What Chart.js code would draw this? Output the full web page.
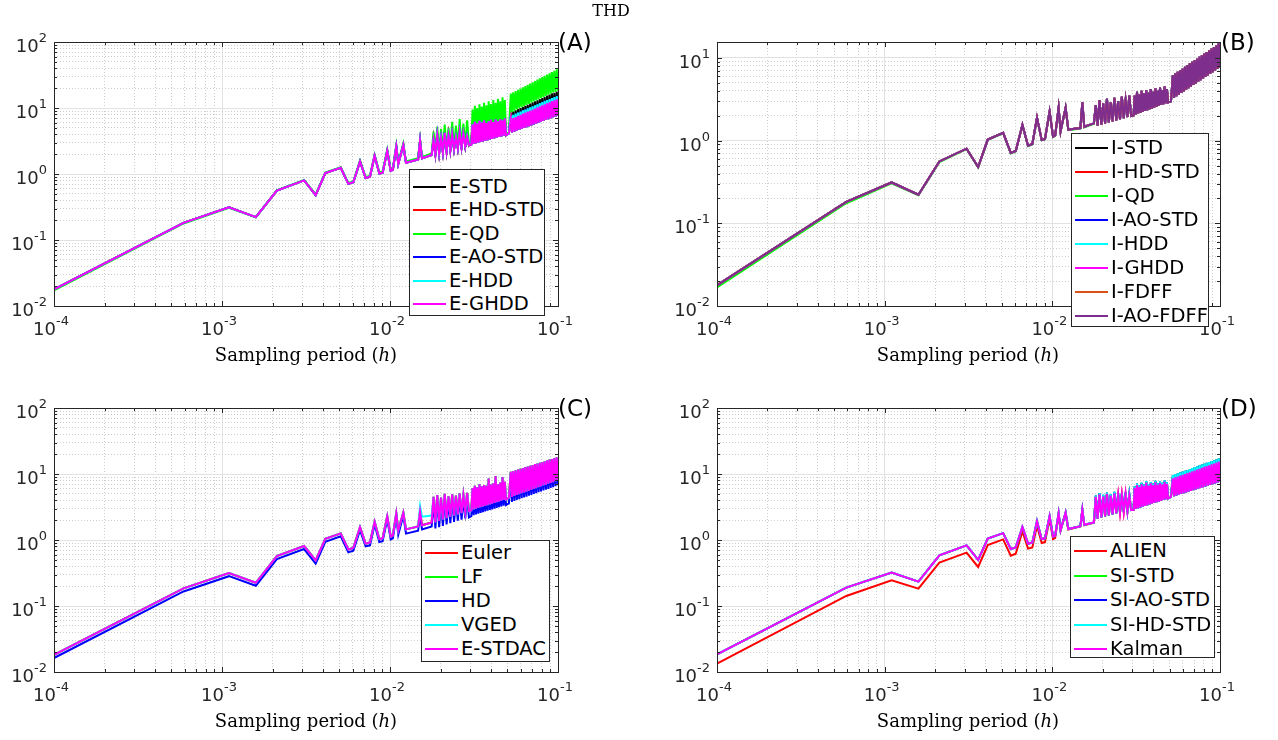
<!DOCTYPE html>
<html><head><meta charset="utf-8">
<script src="https://cdn.jsdelivr.net/npm/chart.js@4.4.0/dist/chart.umd.min.js"></script>
<style>
html,body{margin:0;padding:0;background:#fff;}
#wrap{position:relative;width:1278px;height:740px;overflow:hidden;background:#fff;}
canvas{position:absolute;left:0;top:0;}
.t{position:absolute;white-space:nowrap;color:#000;}
.title{font-family:"DejaVu Serif",serif;font-size:16px;line-height:16px;left:611px;top:3px;transform:translateX(-50%);}
.xt{font-family:"DejaVu Serif",serif;font-size:18px;transform:translate(-50%,-50%);}
.pl{font-family:"DejaVu Sans",sans-serif;font-size:23px;line-height:23px;}
.lg{position:absolute;background:#fff;border:1px solid #262626;box-sizing:border-box;font-family:"DejaVu Sans",sans-serif;font-size:19.5px;color:#000;}
.lg .row{position:absolute;left:0;right:0;height:0;}
.lg .sw{position:absolute;left:3px;width:33px;height:2px;top:-1px;}
.lg .tx{position:absolute;left:39px;top:-12px;line-height:24px;white-space:nowrap;}
</style></head><body><div id="wrap">
<canvas id="cA" width="1278" height="740"></canvas>
<canvas id="cB" width="1278" height="740"></canvas>
<canvas id="cC" width="1278" height="740"></canvas>
<canvas id="cD" width="1278" height="740"></canvas>
<div class="t title">THD</div>
<div class="t xt" style="left:306px;top:354px">Sampling period (<i>h</i>)</div>
<div class="t xt" style="left:968px;top:354px">Sampling period (<i>h</i>)</div>
<div class="t xt" style="left:306px;top:720px">Sampling period (<i>h</i>)</div>
<div class="t xt" style="left:968px;top:720px">Sampling period (<i>h</i>)</div>
<div class="t pl" style="left:558px;top:31px">(A)</div>
<div class="t pl" style="left:1221px;top:31px">(B)</div>
<div class="t pl" style="left:558px;top:397px">(C)</div>
<div class="t pl" style="left:1221px;top:397px">(D)</div>
</div>
<script>
// ---------------- data ----------------
// sampling periods h (shared by all curves)
const hVals = [
 1e-4, 5.9e-4, 1.10e-3, 1.59e-3, 2.12e-3, 3.08e-3, 3.61e-3, 4.12e-3, 5.09e-3, 5.65e-3,
 6.05e-3, 6.63e-3, 7.16e-3, 7.60e-3, 8.10e-3, 8.64e-3, 9.04e-3, 9.63e-3, 1.01e-2, 1.04e-2,
 1.09e-2, 1.12e-2, 1.20e-2, 1.245e-2, 1.47e-2, 1.51e-2, 1.55e-2, 1.77e-2,
 0.01816, 0.01863, 0.01911, 0.01961, 0.02012, 0.02064, 0.02117, 0.02172, 0.02229, 0.02286,
 0.02345, 0.02406, 0.02469, 0.02533, 0.02598, 0.02666, 0.02735, 0.02806, 0.02878, 0.02951,
 0.0305,
 0.03099, 0.03148, 0.03199, 0.03250, 0.03301, 0.03354, 0.03408, 0.03462, 0.03517, 0.03573,
 0.03630, 0.03688, 0.03747, 0.03807, 0.03867, 0.03929, 0.03992, 0.04055, 0.04120, 0.04186,
 0.04252, 0.04320, 0.04389, 0.04459, 0.04530, 0.04603, 0.04676, 0.04751, 0.04826, 0.04903,
 0.0500, 0.0510,
 0.05236, 0.05323, 0.05412, 0.05503, 0.05595, 0.05689, 0.05784, 0.05880, 0.05979, 0.06079,
 0.06180, 0.06284, 0.06389, 0.06495, 0.06604, 0.06714, 0.06826, 0.06940, 0.07057, 0.07174,
 0.07295, 0.07416, 0.07540, 0.07666, 0.07795, 0.07925, 0.08057, 0.08192, 0.08329, 0.08468,
 0.08610, 0.08753, 0.08900, 0.09048, 0.09200, 0.09354, 0.09510, 0.09669, 0.09831, 0.10000
];

// ---- Panel A (explicit methods) ----
const A_low = [0.0178, 0.182, 0.312, 0.222, 0.56, 0.80, 0.48, 1.03, 1.24, 0.71, 0.75, 1.55, 0.87, 0.91, 1.89, 1.02, 1.05, 2.25, 1.12, 1.16, 2.6, 1.42, 2.75, 1.48, 1.66, 3.2, 1.73, 1.94];
const A_low_qd = [0.0172, 0.178, 0.308, 0.22, 0.565, 0.81, 0.49, 1.05, 1.27, 0.73, 0.77, 1.6, 0.9, 0.94, 1.95, 1.06, 1.09, 2.35, 1.17, 1.21, 2.75, 1.5, 2.9, 1.55, 1.74, 3.35, 1.82, 2.04];
const A_dense_ghdd = [
 3.3, 2.01, 3.9, 2.08, 3.5, 2.15, 4.2, 2.22, 3.8, 2.30, 4.0, 2.38, 3.6, 2.46, 4.3, 2.55, 4.1, 2.63, 3.7, 2.72,
 2.78,
 5.6, 2.86, 6.2, 2.92, 5.8, 2.99, 6.4, 3.05, 6.0, 3.12, 6.5, 3.19, 5.9, 3.26, 6.3, 3.33, 6.6, 3.41, 6.1, 3.48,
 6.7, 3.56, 6.3, 3.64, 6.8, 3.72, 6.5, 3.81, 6.9, 3.89,
 4.0, 4.1,
 6.8, 4.26, 7.05, 4.40, 7.3, 4.53, 7.6, 4.68, 7.9, 4.82, 8.2, 4.98, 8.5, 5.13, 8.8, 5.29, 9.1, 5.46, 9.5, 5.63,
 9.8, 5.81, 10.2, 6.00, 10.6, 6.19, 11.0, 6.38, 11.4, 6.58, 11.8, 6.79, 12.2, 7.00, 12.7, 7.23, 13.1, 7.45, 13.5, 7.60];
const A_dense_hdd = [
 3.3, 2.01, 3.9, 2.08, 3.5, 2.15, 4.2, 2.22, 3.8, 2.30, 4.0, 2.38, 3.6, 2.46, 4.3, 2.55, 4.1, 2.63, 3.7, 2.72,
 2.78,
 5.6, 2.86, 6.2, 2.92, 5.8, 2.99, 6.4, 3.05, 6.0, 3.12, 6.5, 3.19, 5.9, 3.26, 6.3, 3.33, 6.6, 3.41, 6.1, 3.48,
 6.7, 3.56, 6.3, 3.64, 6.8, 3.72, 6.5, 3.81, 6.9, 3.89,
 4.0, 4.1,
 7.6, 4.26, 7.9, 4.40, 8.2, 4.53, 8.5, 4.68, 8.85, 4.82, 9.2, 4.98, 9.5, 5.13, 9.85, 5.29, 10.2, 5.46, 10.6, 5.63,
 11.0, 5.81, 11.4, 6.00, 11.9, 6.19, 12.3, 6.38, 12.8, 6.58, 13.2, 6.79, 13.7, 7.00, 14.2, 7.23, 14.7, 7.45, 15.1, 7.60];
const A_dense_hdstd = [
 3.45, 2.01, 4.1, 2.08, 3.7, 2.15, 4.4, 2.22, 4.0, 2.30, 4.2, 2.38, 3.8, 2.46, 4.5, 2.55, 4.3, 2.63, 3.9, 2.72,
 2.95,
 5.8, 2.86, 6.4, 2.92, 6.0, 2.99, 6.6, 3.05, 6.2, 3.12, 6.7, 3.19, 6.1, 3.26, 6.5, 3.33, 6.8, 3.41, 6.3, 3.48,
 6.9, 3.56, 6.5, 3.64, 7.0, 3.72, 6.7, 3.81, 7.1, 3.89,
 4.1, 4.2,
 7.1, 4.26, 7.4, 4.40, 7.7, 4.53, 8.0, 4.68, 8.3, 4.82, 8.6, 4.98, 8.9, 5.13, 9.2, 5.29, 9.6, 5.46, 10.0, 5.63,
 10.3, 5.81, 10.7, 6.00, 11.1, 6.19, 11.5, 6.38, 12.0, 6.58, 12.4, 6.79, 12.8, 7.00, 13.3, 7.23, 13.8, 7.45, 14.2, 7.60];
const A_dense_std = [
 3.5, 2.01, 4.15, 2.08, 3.7, 2.15, 4.45, 2.22, 4.0, 2.30, 4.25, 2.38, 3.8, 2.46, 4.55, 2.55, 4.35, 2.63, 3.9, 2.72,
 3.05,
 5.9, 2.86, 6.5, 2.92, 6.1, 2.99, 6.7, 3.05, 6.3, 3.12, 6.8, 3.19, 6.2, 3.26, 6.6, 3.33, 6.9, 3.41, 6.4, 3.48,
 7.0, 3.56, 6.6, 3.64, 7.1, 3.72, 6.8, 3.81, 7.2, 3.89,
 4.1, 4.2,
 8.5, 4.26, 8.8, 4.40, 9.2, 4.53, 9.6, 4.68, 10.0, 4.82, 10.4, 4.98, 10.8, 5.13, 11.2, 5.29, 11.7, 5.46, 12.2, 5.63,
 12.6, 5.81, 13.1, 6.00, 13.7, 6.19, 14.2, 6.38, 14.8, 6.58, 15.4, 6.79, 16.0, 7.00, 16.7, 7.23, 17.0, 7.45, 17.7, 7.60];
const A_dense_qd = [
 4.4, 2.09, 5.2, 2.16, 4.8, 2.24, 5.6, 2.31, 5.0, 2.39, 6.2, 2.48, 5.4, 2.56, 6.8, 2.65, 5.8, 2.74, 6.5, 2.83,
 2.85,
 9.5, 3.0, 10.8, 3.06, 10.0, 3.13, 11.4, 3.2, 10.5, 3.27, 12.0, 3.34, 11.0, 3.42, 12.6, 3.5, 11.5, 3.58, 13.2, 3.66,
 12.0, 3.74, 13.8, 3.83, 12.6, 3.91, 14.5, 4.0, 13.2, 4.08,
 4.2, 4.3,
 16.5, 8.75, 17.3, 9.05, 18.0, 9.5, 18.8, 9.9, 19.7, 10.3, 20.6, 10.7, 21.5, 11.1, 22.5, 11.5, 23.5, 12.05, 24.6, 12.6,
 25.7, 13.0, 26.9, 13.5, 28.1, 14.1, 29.4, 14.6, 30.7, 15.2, 32.1, 15.9, 33.6, 16.5, 35.1, 17.2, 36.7, 17.5, 38.5, 18.2];

// ---- Panel B (implicit methods) ----
const B_low = [0.0178, 0.182, 0.312, 0.222, 0.56, 0.80, 0.48, 1.03, 1.24, 0.71, 0.75, 1.55, 0.87, 0.91, 1.89, 1.02, 1.05, 2.25, 1.12, 1.16, 2.5, 1.3, 2.5, 1.36, 1.42, 2.9, 1.47, 1.62];
const B_low_qd = [0.0168, 0.175, 0.305, 0.218, 0.55, 0.79, 0.475, 1.02, 1.23, 0.70, 0.74, 1.53, 0.86, 0.90, 1.87, 1.01, 1.04, 2.22, 1.10, 1.14, 2.47, 1.28, 2.47, 1.34, 1.40, 2.86, 1.45, 1.60];
const B_dense = [
 2.7, 1.52, 3.1, 1.56, 2.8, 1.61, 3.2, 1.66, 2.9, 1.71, 3.3, 1.76, 3.0, 1.81, 3.4, 1.87, 3.1, 1.93, 3.5, 1.99,
 2.02,
 3.5, 2.08, 3.9, 2.13, 3.6, 2.18, 4.0, 2.23, 3.7, 2.29, 4.1, 2.34, 3.8, 2.40, 4.2, 2.46, 3.9, 2.52, 4.3, 2.58,
 4.0, 2.64, 4.4, 2.70, 4.1, 2.77, 4.5, 2.84, 4.2, 2.90,
 2.95, 3.0,
 6.2, 3.30, 6.5, 3.45, 6.8, 3.60, 7.1, 3.77, 7.4, 3.94, 7.8, 4.12, 8.2, 4.31, 8.6, 4.50, 9.0, 4.71, 9.4, 4.93,
 9.8, 5.15, 10.3, 5.39, 10.8, 5.63, 11.3, 5.89, 11.8, 6.16, 12.4, 6.44, 13.0, 6.73, 13.6, 7.04, 14.2, 7.36, 15.2, 7.70];

// ---- Panel C ----
const C_low = [0.0182, 0.185, 0.315, 0.225, 0.57, 0.81, 0.49, 1.04, 1.26, 0.72, 0.76, 1.56, 0.88, 0.92, 1.90, 1.03, 1.06, 2.28, 1.13, 1.17, 2.55, 1.40, 2.60, 1.45, 1.60, 2.70, 1.68, 1.85];
const C_low_vged = [0.0182, 0.185, 0.315, 0.225, 0.57, 0.81, 0.49, 1.04, 1.26, 0.72, 0.76, 1.56, 0.88, 0.92, 1.90, 1.03, 1.06, 2.28, 1.13, 1.17, 2.55, 1.40, 2.60, 1.45, 1.60, 3.25, 2.25, 2.35];
const C_low_hd = [0.0163, 0.166, 0.283, 0.203, 0.515, 0.73, 0.44, 0.94, 1.14, 0.65, 0.69, 1.41, 0.80, 0.83, 1.72, 0.93, 0.96, 2.06, 1.02, 1.06, 2.30, 1.20, 2.35, 1.25, 1.38, 2.45, 1.45, 1.60];
const C_dense_stdac = [
 4.5, 1.85, 4.8, 1.95, 4.4, 2.05, 5.0, 2.15, 4.6, 2.25, 4.9, 2.35, 4.7, 2.45, 5.1, 2.55, 4.8, 2.65, 5.2, 2.75,
 2.8,
 6.1, 2.90, 6.6, 2.98, 6.3, 3.05, 7.0, 3.13, 6.5, 3.21, 6.8, 3.29, 6.6, 3.38, 8.5, 3.46, 6.9, 3.55, 7.2, 3.64,
 9.3, 3.74, 7.0, 3.83, 7.4, 3.93, 9.0, 4.03, 7.6, 4.13,
 4.25, 4.35,
 10.8, 4.5, 11.1, 4.65, 11.4, 4.8, 11.7, 4.95, 12.0, 5.1, 12.3, 5.25, 12.7, 5.4, 13.0, 5.6, 13.3, 5.75, 13.7, 5.95,
 14.1, 6.1, 14.4, 6.3, 14.8, 6.5, 15.2, 6.7, 15.6, 6.9, 16.1, 7.1, 16.5, 7.3, 16.9, 7.5, 17.4, 7.8, 17.9, 8.05];
const C_dense_hd = [
 3.8, 1.5, 4.1, 1.56, 3.75, 1.64, 4.25, 1.72, 3.9, 1.8, 4.15, 1.88, 4.0, 1.96, 4.35, 2.04, 4.1, 2.12, 4.4, 2.2,
 2.3,
 5.2, 2.38, 5.6, 2.44, 5.35, 2.50, 5.95, 2.57, 5.5, 2.63, 5.8, 2.70, 5.6, 2.77, 7.2, 2.84, 5.85, 2.91, 6.1, 2.98,
 7.9, 3.07, 5.95, 3.14, 6.3, 3.22, 7.65, 3.30, 6.45, 3.39,
 3.5, 3.57,
 9.2, 3.78, 9.4, 3.9, 9.7, 4.03, 9.9, 4.16, 10.2, 4.28, 10.5, 4.41, 10.8, 4.54, 11.0, 4.7, 11.3, 4.83, 11.6, 5.0,
 12.0, 5.12, 12.2, 5.29, 12.6, 5.46, 12.9, 5.63, 13.3, 5.8, 13.7, 5.96, 14.0, 6.13, 14.4, 6.3, 14.8, 6.55, 15.2, 6.76];

// ---- Panel D ----
const D_low = [0.0185, 0.19, 0.32, 0.234, 0.586, 0.83, 0.50, 1.05, 1.27, 0.73, 0.77, 1.58, 0.88, 0.92, 1.92, 1.03, 1.06, 2.30, 1.13, 1.17, 2.55, 1.42, 2.60, 1.47, 1.62, 2.90, 1.70, 1.85];
const D_low_alien = [0.0134, 0.142, 0.245, 0.183, 0.454, 0.644, 0.39, 0.84, 1.02, 0.58, 0.62, 1.35, 0.74, 0.77, 1.65, 0.90, 0.93, 2.05, 1.03, 1.08, 2.45, 1.38, 2.55, 1.44, 1.60, 2.85, 1.68, 1.83];
const D_dense_kalman = [
 4.5, 2.1, 4.9, 2.2, 4.6, 2.28, 5.0, 2.36, 4.7, 2.44, 5.1, 2.52, 4.8, 2.6, 4.9, 2.68, 5.0, 2.76, 4.7, 2.84,
 2.85,
 6.2, 2.95, 6.8, 3.03, 6.4, 3.11, 7.0, 3.19, 6.6, 3.27, 7.4, 3.36, 6.7, 3.45, 7.2, 3.54, 6.8, 3.63, 7.5, 3.73,
 6.9, 3.82, 7.3, 3.92, 7.0, 4.03, 7.6, 4.14, 7.1, 4.25,
 4.4, 4.5,
 8.6, 4.6, 8.9, 4.72, 9.15, 4.85, 9.45, 4.98, 9.75, 5.11, 10.0, 5.25, 10.3, 5.39, 10.6, 5.53, 11.0, 5.68, 11.3, 5.83,
 11.7, 5.99, 12.0, 6.15, 12.4, 6.31, 12.8, 6.48, 13.2, 6.65, 13.6, 6.83, 14.0, 7.01, 14.4, 7.2, 14.9, 7.39, 15.4, 7.6];
const D_dense_si = [
 4.7, 2.1, 5.15, 2.2, 4.85, 2.28, 5.25, 2.36, 4.95, 2.44, 5.35, 2.52, 5.05, 2.6, 5.15, 2.68, 5.25, 2.76, 4.95, 2.84,
 2.9,
 6.5, 2.95, 7.15, 3.03, 6.7, 3.11, 7.35, 3.19, 6.95, 3.27, 7.8, 3.36, 7.05, 3.45, 7.55, 3.54, 7.15, 3.63, 7.9, 3.73,
 7.25, 3.82, 7.65, 3.92, 7.35, 4.03, 8.0, 4.14, 7.45, 4.25,
 4.4, 4.5,
 9.6, 4.6, 10.0, 4.72, 10.25, 4.85, 10.6, 4.98, 10.9, 5.11, 11.2, 5.25, 11.5, 5.39, 11.9, 5.53, 12.3, 5.68, 12.7, 5.83,
 13.1, 5.99, 13.4, 6.15, 13.9, 6.31, 14.3, 6.48, 14.8, 6.65, 15.2, 6.83, 15.7, 7.01, 16.1, 7.2, 16.7, 7.39, 17.2, 7.6];

// tick labels / axis decades
const xDecades = [1e-4, 1e-3, 1e-2, 1e-1];
const yDecades = [1e-2, 1e-1, 1, 10, 100];
const minorMults = [2, 3, 4, 5, 6, 7, 8, 9];

// series names
const A_names = ['E-STD', 'E-HD-STD', 'E-QD', 'E-AO-STD', 'E-HDD', 'E-GHDD'];
const B_names = ['I-STD', 'I-HD-STD', 'I-QD', 'I-AO-STD', 'I-HDD', 'I-GHDD', 'I-FDFF', 'I-AO-FDFF'];
const C_names = ['Euler', 'LF', 'HD', 'VGED', 'E-STDAC'];
const D_names = ['ALIEN', 'SI-STD', 'SI-AO-STD', 'SI-HD-STD', 'Kalman'];

// ---------------- styles / layout ----------------
const COL = {k:'#000000', r:'#ff0000', g:'#00ff00', b:'#0000ff', c:'#00ffff', m:'#ff00ff', o:'#D95319', p:'#7E2F8E'};
const W = 1278, H = 740;
const panels = [
 {id:'cA', area:{l:54, t:42, r:558, b:306}, yMax:100, names:A_names,
  ys:[A_low.concat(A_dense_std), A_low.concat(A_dense_hdstd), A_low_qd.concat(A_dense_qd), A_low.concat(A_dense_hdd), A_low.concat(A_dense_hdd), A_low.concat(A_dense_ghdd)],
  cols:[COL.k, COL.r, COL.g, COL.b, COL.c, COL.m], lg:{x:409, y:169, w:136, h:147, first:17, step:23.4}},
 {id:'cB', area:{l:717, t:42, r:1220, b:306}, yMax:15.6, names:B_names,
  ys:[B_low.concat(B_dense), B_low.concat(B_dense), B_low_qd.concat(B_dense), B_low.concat(B_dense), B_low.concat(B_dense), B_low.concat(B_dense), B_low.concat(B_dense), B_low.concat(B_dense)],
  cols:[COL.k, COL.r, COL.g, COL.b, COL.c, COL.m, COL.o, COL.p], lg:{x:1071, y:133, w:138, h:194, first:14, step:24}},
 {id:'cC', area:{l:54, t:408, r:558, b:672}, yMax:100, names:C_names,
  ys:[C_low.concat(C_dense_stdac), C_low.concat(C_dense_stdac), C_low_hd.concat(C_dense_hd), C_low_vged.concat(C_dense_stdac), C_low.concat(C_dense_stdac)],
  cols:[COL.r, COL.g, COL.b, COL.c, COL.m], lg:{x:421, y:540, w:129, h:122, first:12, step:24}},
 {id:'cD', area:{l:717, t:408, r:1220, b:672}, yMax:100, names:D_names,
  ys:[D_low_alien.concat(D_dense_kalman), D_low.concat(D_dense_si), D_low.concat(D_dense_si), D_low.concat(D_dense_si), D_low.concat(D_dense_kalman)],
  cols:[COL.r, COL.g, COL.b, COL.c, COL.m], lg:{x:1070, y:536, w:145, h:122, first:14, step:24.5}}
];

const isDec = v => Math.abs(Math.log10(v) - Math.round(Math.log10(v))) < 1e-7;
function logTicks(decades, max) {
  const out = [];
  decades.forEach(d => {
    if (d <= max * 1.0001) out.push(d);
    minorMults.forEach(m => { if (d * m <= max * 1.0001) out.push(d * m); });
  });
  return out.sort((a, b) => a - b).map(v => ({value: v}));
}
const MAJ = '#e2e2e2', MIN = '#cdcdcd', AX = '#262626';
const FT = '18px "DejaVu Sans"', FS = '13px "DejaVu Sans"';

const decor = {
  id: 'decor',
  afterDraw(chart) {
    const {ctx, chartArea: a, scales: {x, y}} = chart;
    ctx.save();
    ctx.strokeStyle = AX; ctx.lineWidth = 1;
    ctx.beginPath();
    x.ticks.forEach(t => {
      const px = Math.round(x.getPixelForValue(t.value)) + 0.5;
      const len = isDec(t.value) ? 5 : 3;
      ctx.moveTo(px, a.bottom); ctx.lineTo(px, a.bottom - len);
      ctx.moveTo(px, a.top); ctx.lineTo(px, a.top + len);
    });
    y.ticks.forEach(t => {
      const py = Math.round(y.getPixelForValue(t.value)) + 0.5;
      const len = isDec(t.value) ? 5 : 3;
      ctx.moveTo(a.left, py); ctx.lineTo(a.left + len, py);
      ctx.moveTo(a.right, py); ctx.lineTo(a.right - len, py);
    });
    ctx.stroke();
    ctx.strokeRect(Math.round(a.left) + 0.5, Math.round(a.top) + 0.5, Math.round(a.right - a.left), Math.round(a.bottom - a.top));
    ctx.fillStyle = '#262626';
    ctx.textBaseline = 'alphabetic';
    const pow = (e, px, py, mode) => {
      const base = '10', sup = String(e);
      ctx.font = FT; const w1 = ctx.measureText(base).width;
      ctx.font = FS; const w2 = ctx.measureText(sup).width;
      const x0 = mode === 'c' ? px - (w1 + w2) / 2 - 3 : px - w1 - w2;
      ctx.font = FT; ctx.fillText(base, x0, py);
      ctx.font = FS; ctx.fillText(sup, x0 + w1, py - 10);
    };
    x.ticks.forEach(t => { if (isDec(t.value)) pow(Math.round(Math.log10(t.value)), x.getPixelForValue(t.value), a.bottom + 29, 'c'); });
    y.ticks.forEach(t => { if (isDec(t.value)) pow(Math.round(Math.log10(t.value)), a.left - 7, y.getPixelForValue(t.value) + 10, 'r'); });
    ctx.restore();
  }
};

panels.forEach(p => {
  const datasets = p.ys.map((ys, i) => ({
    label: p.names[i],
    data: hVals.map((h, k) => ({x: h, y: ys[k]})),
    borderColor: p.cols[i], backgroundColor: p.cols[i],
    borderWidth: 2, pointRadius: 0, tension: 0, fill: false,
    order: -i
  }));
  const gridCfg = {
    color: c => (c.tick && isDec(c.tick.value)) ? MAJ : MIN,
    lineWidth: 1, drawTicks: false
  };
  const borderCfg = {display: false, dash: c => (c.tick && isDec(c.tick.value)) ? [] : [1, 2]};
  new Chart(document.getElementById(p.id), {
    type: 'line',
    data: {datasets},
    options: {
      responsive: false, animation: false, events: [],
      layout: {padding: {left: p.area.l, top: p.area.t, right: W - p.area.r, bottom: H - p.area.b}},
      plugins: {legend: {display: false}, tooltip: {enabled: false}, title: {display: false}},
      scales: {
        x: {type: 'logarithmic', min: 1e-4, max: 0.1, bounds: 'data',
            ticks: {display: false}, grid: gridCfg, border: borderCfg,
            afterBuildTicks: s => { s.ticks = logTicks(xDecades, 0.1); },
            afterFit: s => { s.height = 0; }},
        y: {type: 'logarithmic', min: 0.01, max: p.yMax, bounds: 'data',
            ticks: {display: false}, grid: gridCfg, border: borderCfg,
            afterBuildTicks: s => { s.ticks = logTicks(yDecades, p.yMax); },
            afterFit: s => { s.width = 0; }}
      }
    },
    plugins: [decor]
  });
  // legend (HTML, built from the dataset names and colours)
  const lg = document.createElement('div');
  lg.className = 'lg';
  Object.assign(lg.style, {left: p.lg.x + 'px', top: p.lg.y + 'px', width: p.lg.w + 'px', height: p.lg.h + 'px'});
  p.names.forEach((n, i) => {
    const row = document.createElement('div');
    row.className = 'row';
    row.style.top = (p.lg.first + i * p.lg.step) + 'px';
    row.innerHTML = '<div class="sw" style="background:' + p.cols[i] + '"></div><div class="tx">' + n + '</div>';
    lg.appendChild(row);
  });
  document.getElementById('wrap').appendChild(lg);
});
</script>
</body></html>
